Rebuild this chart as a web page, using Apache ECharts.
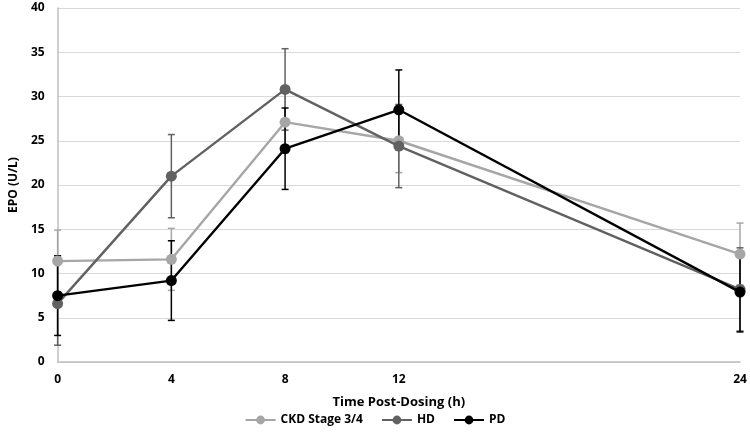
<!DOCTYPE html>
<html><head><meta charset="utf-8">
<script src="https://cdn.jsdelivr.net/npm/echarts@6/dist/echarts.min.js"></script>
<style>html,body{margin:0;padding:0;background:#fff}#c{width:750px;height:435px}</style>
</head><body><div id="c"></div>
<script>
var times = [0, 4, 8, 12, 24];
var xTicks = [0, 4, 8, 12, 24];
var seriesNames = ['CKD Stage 3/4', 'HD', 'PD'];
var ckd = [11.4, 11.6, 27.1, 25.0, 12.2];
var hd = [6.6, 21.0, 30.8, 24.4, 8.2];
var pd = [7.5, 9.2, 24.1, 28.5, 7.9];
var ckdErr = [3.5, 3.5, 3.5, 3.6, 3.5];
var hdErr = [4.7, 4.7, 4.6, 4.7, 4.7];
var pdErr = [4.5, 4.5, 4.6, 4.5, 4.5];
var colors = ['#a6a6a6', '#616161', '#000000'];

var FONT = '"Open Sans", "Liberation Sans", sans-serif';

function errData(vals, errs) {
  return times.map(function (t, i) { return [t, vals[i] - errs[i], vals[i] + errs[i]]; });
}
function errSeries(vals, errs, color) {
  return {
    type: 'custom',
    data: errData(vals, errs),
    z: 1,
    silent: true,
    renderItem: function (params, api) {
      var x = api.value(0);
      var lo = api.coord([x, api.value(1)]);
      var hi = api.coord([x, api.value(2)]);
      var w = 3.5;
      var st = { stroke: color, lineWidth: 1.5 };
      return {
        type: 'group',
        children: [
          { type: 'line', shape: { x1: lo[0], y1: lo[1], x2: hi[0], y2: hi[1] }, style: st },
          { type: 'line', shape: { x1: lo[0] - w, y1: lo[1], x2: lo[0] + w, y2: lo[1] }, style: st },
          { type: 'line', shape: { x1: hi[0] - w, y1: hi[1], x2: hi[0] + w, y2: hi[1] }, style: st }
        ]
      };
    }
  };
}
function lineSeries(name, vals, color, z) {
  return {
    name: name,
    type: 'line',
    data: times.map(function (t, i) { return [t, vals[i]]; }),
    symbol: 'circle',
    symbolSize: 11,
    z: z,
    lineStyle: { color: color, width: 2.4 },
    itemStyle: { color: color },
    emphasis: { disabled: true }
  };
}

var chart = echarts.init(document.getElementById('c'), null, { renderer: 'canvas' });
chart.setOption({
  animation: false,
  backgroundColor: '#ffffff',
  grid: { left: 50, right: 10, top: 8, bottom: 73 },
  legend: {
    data: seriesNames,
    bottom: 4,
    left: 'center',
    itemWidth: 30,
    itemHeight: 11,
    itemGap: 18,
    textStyle: { fontFamily: FONT, fontWeight: 'bold', fontSize: 12, color: '#000' }
  },
  xAxis: {
    type: 'value',
    min: 0, max: 24, interval: 4,
    name: 'Time Post-Dosing (h)',
    nameLocation: 'middle',
    nameGap: 34,
    nameTextStyle: { fontFamily: FONT, fontWeight: 'bold', fontSize: 13, color: '#000' },
    axisLine: { show: true, lineStyle: { color: '#bfbfbf', width: 1.5 } },
    axisTick: { show: false },
    splitLine: { show: false },
    axisLabel: { customValues: xTicks, fontFamily: FONT, fontWeight: 'bold', fontSize: 12, color: '#000', margin: 12 }
  },
  yAxis: {
    type: 'value',
    min: 0, max: 40, interval: 5,
    name: 'EPO (U/L)',
    nameLocation: 'middle',
    nameGap: 35,
    nameTextStyle: { fontFamily: FONT, fontWeight: 'bold', fontSize: 12, color: '#000' },
    axisLine: { show: true, lineStyle: { color: '#bfbfbf', width: 1.5 } },
    axisTick: { show: false },
    splitLine: { show: true, lineStyle: { color: '#d9d9d9', width: 1.2 } },
    axisLabel: { fontFamily: FONT, fontWeight: 'bold', fontSize: 12, color: '#000', margin: 13 }
  },
  series: [
    errSeries(ckd, ckdErr, colors[0]),
    errSeries(hd, hdErr, colors[1]),
    errSeries(pd, pdErr, colors[2]),
    lineSeries(seriesNames[0], ckd, colors[0], 2),
    lineSeries(seriesNames[1], hd, colors[1], 3),
    lineSeries(seriesNames[2], pd, colors[2], 4)
  ]
});
</script>
</body></html>
